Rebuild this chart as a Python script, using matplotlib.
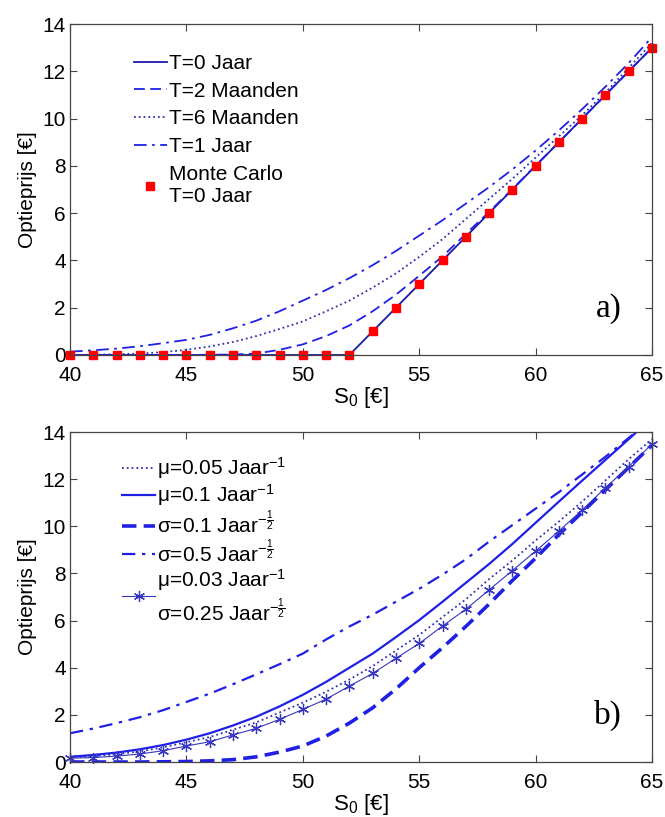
import matplotlib
matplotlib.use("Agg")
import matplotlib.pyplot as plt

plt.rcParams['font.family'] = ['Liberation Sans', 'DejaVu Sans']
plt.rcParams['mathtext.fontset'] = 'custom'
plt.rcParams['mathtext.rm'] = 'Liberation Sans'
plt.rcParams['mathtext.it'] = 'Liberation Sans:italic'
plt.rcParams['mathtext.bf'] = 'Liberation Sans:bold'

# S0 grid
s0 = list(range(40, 66))

# panel a) - option price for various maturities
t0 = [0] * 13 + list(range(1, 14))
t2m = [0, 0, 0, 0, 0, 0, 0.01, 0.02, 0.06, 0.22, 0.45, 0.8, 1.25, 1.85, 2.55,
       3.35, 4.17, 5.12, 6.05, 7.02, 8.01, 9.0, 10.0, 11.0, 12.0, 13.0]
t6m = [0.0, 0.01, 0.03, 0.06, 0.12, 0.22, 0.36, 0.55, 0.8, 1.1, 1.42, 1.85, 2.3,
       2.85, 3.45, 4.15, 4.9, 5.75, 6.6, 7.45, 8.35, 9.25, 10.15, 11.1, 12.15, 13.2]
t1y = [0.14, 0.2, 0.27, 0.37, 0.5, 0.64, 0.85, 1.13, 1.45, 1.85, 2.3, 2.75, 3.25,
       3.8, 4.4, 5.05, 5.7, 6.4, 7.1, 7.85, 8.65, 9.5, 10.4, 11.35, 12.35, 13.45]
mc_t0 = [0] * 13 + list(range(1, 14))

# panel b) - option price for various mu / sigma
mu005 = [0.2, 0.25, 0.33, 0.45, 0.62, 0.84, 1.06, 1.37, 1.68, 2.1, 2.52, 2.98, 3.5,
         4.07, 4.73, 5.39, 6.15, 6.9, 7.76, 8.55, 9.4, 10.2, 11.05, 11.95, 12.85, 13.7]
mu01 = [0.22, 0.3, 0.4, 0.54, 0.72, 0.95, 1.22, 1.55, 1.92, 2.36, 2.85, 3.4, 4.0,
        4.6, 5.3, 6.02, 6.8, 7.6, 8.4, 9.25, 10.15, 11.05, 11.94, 12.82, 13.7, 14.6]
sig01 = [0, 0, 0, 0, 0.01, 0.02, 0.05, 0.1, 0.22, 0.42, 0.68, 1.1, 1.65, 2.3, 3.1,
         4.0, 4.85, 5.75, 6.7, 7.7, 8.65, 9.65, 10.6, 11.55, 12.5, 13.45]
sig05 = [1.22, 1.42, 1.65, 1.9, 2.2, 2.55, 2.9, 3.3, 3.72, 4.15, 4.6, 5.2, 5.75,
         6.25, 6.8, 7.35, 7.95, 8.6, 9.35, 10.05, 10.75, 11.45, 12.2, 12.95, 13.75, 14.55]
base = [0.16, 0.19, 0.25, 0.34, 0.48, 0.68, 0.86, 1.15, 1.43, 1.81, 2.23, 2.67, 3.22,
        3.76, 4.4, 5.03, 5.77, 6.48, 7.3, 8.12, 8.95, 9.8, 10.69, 11.64, 12.53, 13.49]

blue = '#1f1fe6'
dark = '#1a1aa8'
half = r'$^{-\frac{1}{2}}$'

fig = plt.figure(figsize=(6.65, 8.17), dpi=100)
ax1 = fig.add_axes([0.1053, 0.5655, 0.8752, 0.4051])
ax2 = fig.add_axes([0.1053, 0.0673, 0.8752, 0.4039])

ax1.plot(s0, t0, '-', color=dark, lw=1.3, label='T=0 Jaar')
ax1.plot(s0, t2m, '--', color=blue, lw=1.3, dashes=(6, 3), label='T=2 Maanden')
ax1.plot(s0, t6m, ':', color='#3030b0', lw=1.3, label='T=6 Maanden')
ax1.plot(s0, t1y, '-.', color=blue, lw=1.3, dashes=(7, 3, 1.5, 3), label='T=1 Jaar')
ax1.plot(s0, mc_t0, 's', color='red', ms=6, ls='none', clip_on=False,
         label='Monte Carlo\nT=0 Jaar')

ax2.plot(s0, mu005, ':', color='#3030b0', lw=1.3, label='μ=0.05 Jaar' + r'$^{-1}$')
ax2.plot(s0, mu01, '-', color=blue, lw=1.6, label='μ=0.1 Jaar' + r'$^{-1}$')
ax2.plot(s0, sig01, '--', color=blue, lw=2.6, dashes=(4, 2), label='σ=0.1 Jaar' + half)
ax2.plot(s0, sig05, '-.', color=blue, lw=1.6, dashes=(6, 3, 1.5, 3), label='σ=0.5 Jaar' + half)
ax2.plot(s0, base, '-', color='#3535c0', lw=0.8, marker=(6, 2, 0), ms=8, mew=0.9,
         clip_on=False, label='μ=0.03 Jaar' + r'$^{-1}$' + '\nσ=0.25 Jaar' + half)

legend_pos = {ax1: (0.095, 0.935), ax2: (0.075, 0.955)}
legend_gap = {ax1: 0.42, ax2: 0.06}
for ax, tag in [(ax1, 'a)'), (ax2, 'b)')]:
    ax.set_xlim(40, 65)
    ax.set_ylim(0, 14)
    ax.set_xticks(range(40, 66, 5))
    ax.set_yticks(range(0, 15, 2))
    ax.tick_params(direction='in', top=True, right=True, labelsize=15, length=5,
                   color='#444444')
    ax.tick_params(axis='x', pad=8)
    ax.tick_params(axis='y', pad=3)
    for sp in ax.spines.values():
        sp.set_color('#444444')
        sp.set_linewidth(0.9)
    ax.set_xlabel(r'S$_0$ [€]', fontsize=16, labelpad=0)
    ax.set_ylabel('Optieprijs [€]', fontsize=15, labelpad=4)
    ax.text(0.925, 0.14, tag, transform=ax.transAxes, fontsize=24,
            family=['Liberation Serif', 'DejaVu Serif'], ha='center', va='center')
    ax.legend(loc='upper left', bbox_to_anchor=legend_pos[ax], frameon=False,
              fontsize=15, handlelength=1.6, handletextpad=0.1,
              labelspacing=legend_gap[ax], borderaxespad=0)

fig.savefig('out.png', dpi=100)
